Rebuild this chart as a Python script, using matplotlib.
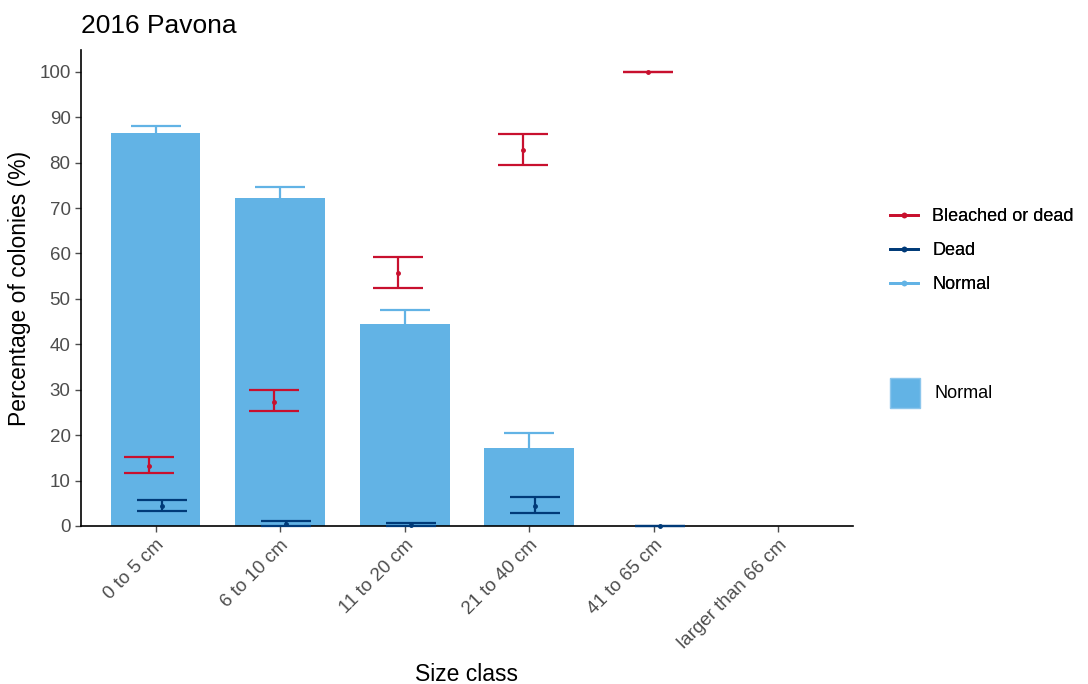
import numpy as np
import matplotlib
matplotlib.use("Agg")
import matplotlib.pyplot as plt
from matplotlib.lines import Line2D
from matplotlib.patches import Patch

plt.rcParams['font.family'] = ['Liberation Sans', 'DejaVu Sans']

# data
sizes = ["0 to 5 cm", "6 to 10 cm", "11 to 20 cm", "21 to 40 cm",
         "41 to 65 cm", "larger than 66 cm"]
normal = [86.6, 72.3, 44.5, 17.2, 0.0, np.nan]
normal_err = [1.5, 2.4, 3.1, 3.3, np.nan, np.nan]
bleached = [13.3, 27.4, 55.8, 82.8, 100.0, np.nan]
bleached_lo = [11.7, 25.3, 52.4, 79.5, 100.0, np.nan]
bleached_hi = [15.1, 30.0, 59.2, 86.3, 100.0, np.nan]
dead = [4.3, 0.5, 0.2, 4.5, 0.0, np.nan]
dead_lo = [3.2, 0.1, 0.0, 2.9, 0.0, np.nan]
dead_hi = [5.8, 1.0, 0.6, 6.4, 0.0, np.nan]

c_red = "#C8102E"
c_navy = "#003A78"
c_light = "#62B3E5"

fig = plt.figure(figsize=(10.88, 6.84), dpi=100)
ax = fig.add_axes([0.0744, 0.231, 0.7096, 0.696])

x = np.arange(len(sizes))
ax.bar(x, normal, width=0.72, color=c_light, edgecolor="none", zorder=2)

ax.errorbar(x, normal, yerr=normal_err, fmt="none", ecolor=c_light,
            elinewidth=1.6, capsize=18, capthick=1.6, zorder=1)

def err(xs, mid, lo, hi, color):
    mid = np.array(mid)
    yerr = [mid - np.array(lo), np.array(hi) - mid]
    ax.errorbar(xs, mid, yerr=yerr, fmt="o", color=color, ms=2.5,
                elinewidth=1.6, capsize=18, capthick=1.6, zorder=3, clip_on=False)

err(x - 0.05, bleached, bleached_lo, bleached_hi, c_red)
err(x + 0.05, dead, dead_lo, dead_hi, c_navy)

ax.set_xlim(-0.6, len(sizes) - 0.4)
ax.set_ylim(0, 104.8)
ax.set_yticks(np.arange(0, 101, 10))
ax.set_xticks(x)
ax.set_xticklabels(sizes, rotation=45, ha="right", rotation_mode="anchor")
ax.tick_params(axis="both", labelsize=13.5, colors="#4D4D4D", length=4, width=1)
for lab in ax.get_xticklabels() + ax.get_yticklabels():
    lab.set_color("#4D4D4D")
for s in ["top", "right"]:
    ax.spines[s].set_visible(False)
for s in ["left", "bottom"]:
    ax.spines[s].set_linewidth(1.2)
    ax.spines[s].set_color("black")

ax.set_xlabel("Size class", fontsize=16.5, labelpad=8)
ax.set_ylabel("Percentage of colonies (%)", fontsize=16.5, labelpad=6)
ax.set_title("2016 Pavona", fontsize=19, loc="left", pad=12)

h1 = [Line2D([0], [0], color=c, lw=2, marker="o", ms=3) for c in (c_red, c_navy, c_light)]
leg1 = fig.legend(h1, ["Bleached or dead", "Dead", "Normal"], loc="upper left",
                  bbox_to_anchor=(0.818, 0.696), frameon=False, fontsize=13,
                  borderpad=0, borderaxespad=0,
                  handlelength=1.55, handletextpad=0.8, labelspacing=0.95)
fig.add_artist(leg1)
h2 = [Patch(facecolor=c_light, edgecolor="#8CC6EC")]
fig.legend(h2, ["Normal"], loc="upper left", bbox_to_anchor=(0.818, 0.448),
           frameon=False, fontsize=13, borderpad=0, borderaxespad=0,
           handlelength=1.65, handleheight=2.2, handletextpad=0.8)

fig.savefig("out.png", dpi=100)
